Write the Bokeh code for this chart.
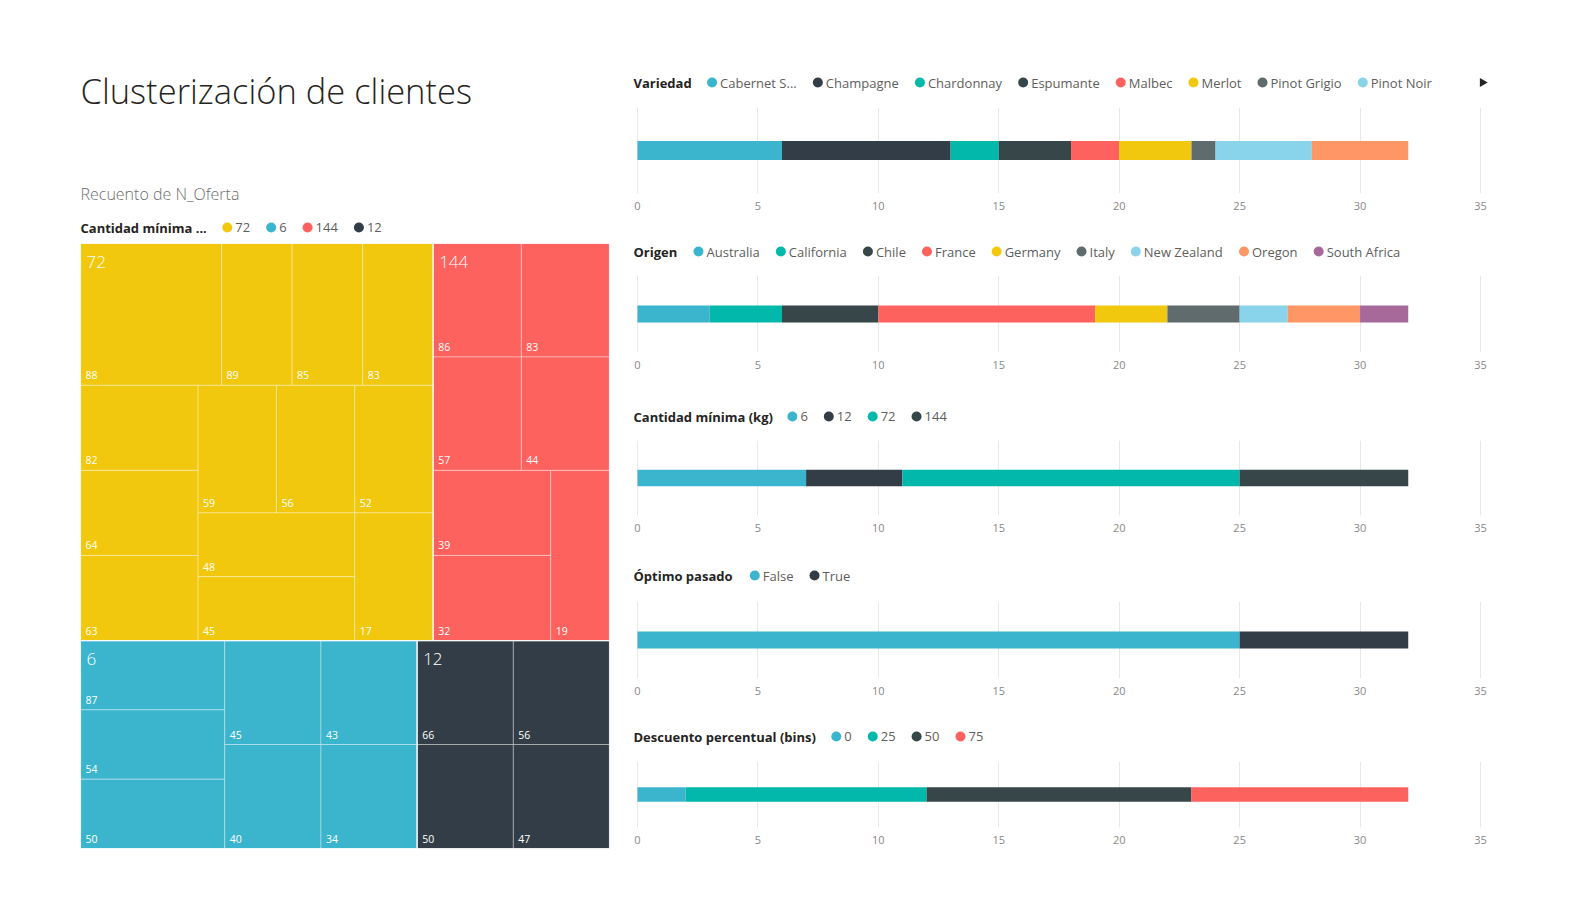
import math
from bokeh.plotting import figure
from bokeh.layouts import row, column
from bokeh.models import Range1d, FixedTicker, ColumnDataSource
from bokeh.core.properties import value
from bokeh.embed import file_html
from bokeh.resources import INLINE

# ---------------- data ----------------
title_text = "Clusterización de clientes"
treemap_title = "Recuento de N_Oferta"
treemap_legend_title = "Cantidad mínima ..."

tm_groups = ["72", "6", "144", "12"]
tm72_labels = ["88", "89", "85", "83", "82", "64", "63", "59", "56", "52", "48", "45", "17"]
tm72_counts = [2, 1, 1, 1, 1, 1, 1, 1, 1, 1, 1, 1, 1]
tm6_labels = ["87", "54", "50", "45", "43", "40", "34"]
tm6_counts = [1, 1, 1, 1, 1, 1, 1]
tm144_labels = ["86", "83", "57", "44", "39", "32", "19"]
tm144_counts = [1, 1, 1, 1, 1, 1, 1]
tm12_labels = ["66", "56", "50", "47"]
tm12_counts = [1, 1, 1, 1]

variedad_title = "Variedad"
variedad_labels = ["Cabernet Sauvignon", "Champagne", "Chardonnay", "Espumante", "Malbec",
                   "Merlot", "Pinot Grigio", "Pinot Noir", "Prosecco"]
variedad_counts = [6, 7, 2, 3, 2, 3, 1, 4, 4]

origen_title = "Origen"
origen_labels = ["Australia", "California", "Chile", "France", "Germany", "Italy",
                 "New Zealand", "Oregon", "South Africa"]
origen_counts = [3, 3, 4, 9, 3, 3, 2, 3, 2]

cantidad_title = "Cantidad mínima (kg)"
cantidad_labels = ["6", "12", "72", "144"]
cantidad_counts = [7, 4, 14, 7]

optimo_title = "Óptimo pasado"
optimo_labels = ["False", "True"]
optimo_counts = [25, 7]

descuento_title = "Descuento percentual (bins)"
descuento_labels = ["0", "25", "50", "75"]
descuento_counts = [2, 10, 11, 9]

x_ticks = [0, 5, 10, 15, 20, 25, 30, 35]
x_max = 35

# ---------------- styles ----------------
BLUE, DARK, TEAL, SLATE = "#3BB4CE", "#333D47", "#01B8AA", "#374649"
RED, YELLOW, GRAY, LBLUE = "#FD625E", "#F2C80F", "#5F6B6D", "#8AD4EB"
ORANGE, PURPLE = "#FE9666", "#A66999"

tm_group_colors = [YELLOW, BLUE, RED, DARK]
variedad_colors = [BLUE, DARK, TEAL, SLATE, RED, YELLOW, GRAY, LBLUE, ORANGE]
origen_colors = [BLUE, TEAL, SLATE, RED, YELLOW, GRAY, LBLUE, ORANGE, PURPLE]
cantidad_colors = [BLUE, DARK, TEAL, SLATE]
optimo_colors = [BLUE, DARK]
descuento_colors = [BLUE, TEAL, SLATE, RED]

FONT = "Open Sans"
LIGHT = "Open Sans Light, Open Sans"
TITLE_COL = "#252423"
ITEM_COL = "#605E5C"

CW = {' ': .26, 'a': .556, 'b': .613, 'c': .476, 'd': .613, 'e': .561, 'f': .339, 'g': .548,
      'h': .614, 'i': .253, 'j': .253, 'k': .525, 'l': .253, 'm': .93, 'n': .614, 'o': .604,
      'p': .613, 'q': .613, 'r': .408, 's': .477, 't': .353, 'u': .614, 'v': .501, 'w': .778,
      'x': .524, 'y': .502, 'z': .477, 'í': .253, 'ó': .604, 'A': .633, 'B': .648, 'C': .631,
      'D': .729, 'E': .556, 'F': .516, 'G': .728, 'H': .738, 'I': .279, 'K': .614, 'L': .519,
      'M': .903, 'N': .773, 'O': .779, 'Ó': .779, 'P': .602, 'R': .618, 'S': .549, 'T': .554,
      'U': .742, 'V': .579, 'W': .912, 'Z': .566, '.': .266, '(': .297, ')': .297, '_': .448}


def tw(s, size, bold=False):
    w = sum(CW.get(ch, .572) for ch in s) * size
    return w * (1.07 if bold else 1.0)


PHI = (1 + 5 ** 0.5) / 2


def squarify(values, x0, y0, x1, y1, ratio=PHI):
    rects = [None] * len(values)
    n = len(values)
    i0 = i1 = 0
    total = float(sum(values))
    while i0 < n:
        dx, dy = x1 - x0, y1 - y0
        s = values[i1]
        i1 += 1
        mn = mx = s
        alpha = max(dy / dx, dx / dy) / (total * ratio)
        beta = s * s * alpha
        min_ratio = max(mx / beta, beta / mn)
        while i1 < n:
            v = values[i1]
            s2 = s + v
            mn2, mx2 = min(mn, v), max(mx, v)
            beta = s2 * s2 * alpha
            r = max(mx2 / beta, beta / mn2)
            if r > min_ratio:
                break
            s, mn, mx, min_ratio = s2, mn2, mx2, r
            i1 += 1
        idx = range(i0, i1)
        if dx < dy:
            ny = y0 + dy * s / total if i1 < n else y1
            cx = x0
            for k in idx:
                w = dx * values[k] / s
                rects[k] = (cx, y0, cx + w, ny)
                cx += w
            y0 = ny
        else:
            nx = x0 + dx * s / total if i1 < n else x1
            cy = y0
            for k in idx:
                h = dy * values[k] / s
                rects[k] = (x0, cy, nx, cy + h)
                cy += h
            x0 = nx
        total -= s
        i0 = i1
    return rects


def draw_legend(p, x0, cy, title, labels, colors, limit=None):
    p.text(x=[x0], y=[cy], text=[title], text_font=value(FONT), text_font_size="13px",
           text_font_style="bold", text_color=TITLE_COL, text_baseline="middle",
           text_align="left")
    x = x0 + tw(title, 13, True) + 21
    dx, tx, tt, cc = [], [], [], []
    complete = True
    for lab, col in zip(labels, colors):
        disp = lab if len(lab) <= 12 else lab[:10] + "..."
        w = tw(disp, 13)
        if limit is not None and x + 8 + w > limit:
            complete = False
            break
        dx.append(x)
        tx.append(x + 8)
        tt.append(disp)
        cc.append(col)
        x += 8 + w + 21
    p.scatter(x=dx, y=[cy] * len(dx), size=10, marker="circle", fill_color=cc, line_color=None)
    p.text(x=tx, y=[cy] * len(tx), text=tt, text_font=value(FONT), text_font_size="13px",
           text_color=ITEM_COL, text_baseline="middle", text_align="left")
    return complete


# ---------------- left panel (screen-pixel canvas) ----------------
LEFT_W, PAGE_H = 620, 860
L = figure(width=LEFT_W, height=PAGE_H, x_range=Range1d(0, LEFT_W), y_range=Range1d(PAGE_H, 0),
           x_axis_type=None, y_axis_type=None, output_backend="svg",
           toolbar_location=None, min_border=0)
L.outline_line_color = None

L.text(x=[80], y=[90], text=[title_text], text_font=value(LIGHT), text_font_size="34.5px",
       text_color=TITLE_COL, text_baseline="middle", text_align="left")
L.text(x=[80], y=[193], text=[treemap_title], text_font=value(LIGHT), text_font_size="16px",
       text_color="#6E6E6E", text_baseline="middle", text_align="left")
draw_legend(L, 80, 227, treemap_legend_title, tm_groups, tm_group_colors)

TMX0, TMY0, TMX1, TMY1 = 80, 243, 609, 848
group_cells = {"72": (tm72_labels, tm72_counts), "6": (tm6_labels, tm6_counts),
               "144": (tm144_labels, tm144_counts), "12": (tm12_labels, tm12_counts)}
gcolor = dict(zip(tm_groups, tm_group_colors))
totals = {g: sum(group_cells[g][1]) for g in tm_groups}
gorder = sorted(tm_groups, key=lambda g: (-totals[g], -int(g)))
grects = squarify([totals[g] for g in gorder], TMX0, TMY0, TMX1, TMY1)

cl, cr, ct, cb, cf, lx, ly, lt = [], [], [], [], [], [], [], []
gl, gr, gt, gb, glx, gly, glt = [], [], [], [], [], [], []
for g, (gx0, gy0, gx1, gy1) in zip(gorder, grects):
    labs, cnts = group_cells[g]
    order = sorted(range(len(labs)), key=lambda i: (-cnts[i], -int(labs[i])))
    rects = squarify([cnts[i] for i in order], gx0, gy0, gx1, gy1)
    for i, (x0, y0, x1, y1) in zip(order, rects):
        cl.append(x0); cr.append(x1); ct.append(y0); cb.append(y1); cf.append(gcolor[g])
        lx.append(x0 + 5); ly.append(y1 - 10); lt.append(labs[i])
    gl.append(gx0); gr.append(gx1); gt.append(gy0); gb.append(gy1)
    glx.append(gx0 + 6); gly.append(gy0 + 18); glt.append(g)

L.quad(left=cl, right=cr, top=ct, bottom=cb, fill_color=cf, line_color="white",
       line_alpha=0.35, line_width=1)
L.quad(left=gl, right=gr, top=gt, bottom=gb, fill_color=None, line_color="white",
       line_alpha=0.7, line_width=1.2)
L.text(x=lx, y=ly, text=lt, text_font=value(FONT), text_font_size="10.5px",
       text_color="white", text_baseline="middle", text_align="left")
L.text(x=glx, y=gly, text=glt, text_font=value(LIGHT), text_font_size="17px",
       text_color="white", text_baseline="middle", text_align="left")

# ---------------- right panel ----------------
# all figures in the column share the same frame: screen x 628 .. 1500
RW, RX0 = 940, LEFT_W
FR_L, FR_R = 628, 1500           # frame edges (screen px)
AX0, AX35 = 637, 1480            # where 0 and 35 fall on screen
k = (AX35 - AX0) / x_max
xr_start = (FR_L - AX0) / k
xr_end = x_max + (FR_R - AX35) / k
BL, BR = FR_L - RX0, RW - (FR_R - RX0)

charts = [
    (variedad_title, variedad_labels, variedad_counts, variedad_colors, 0, 97, 82, 139, 10, 43),
    (origen_title, origen_labels, origen_counts, origen_colors, 236, 30, 251, 135, 9, 49),
    (cantidad_title, cantidad_labels, cantidad_counts, cantidad_colors, 401, 30, 416, 129, 9, 45),
    (optimo_title, optimo_labels, optimo_counts, optimo_colors, 560, 30, 575, 131, 11, 43),
    (descuento_title, descuento_labels, descuento_counts, descuento_colors, 721, 30, 736, 109, 10, 33),
]

right_items = []
for (title, labels, counts, colors, ltop, lh, lcy, bh, tb, bb) in charts:
    lg = figure(width=RW, height=lh, x_range=Range1d(FR_L, FR_R),
                y_range=Range1d(ltop + lh, ltop), x_axis_type=None, y_axis_type=None,
                output_backend="svg", toolbar_location=None, min_border_left=BL,
                min_border_right=BR, min_border_top=0, min_border_bottom=0)
    lg.outline_line_color = None
    complete = draw_legend(lg, 633, lcy, title, labels, colors, limit=1460)
    if not complete:
        lg.scatter(x=[1482], y=[lcy], size=9, marker="triangle", angle=-math.pi / 2,
                   fill_color="#252423", line_color=None)
    right_items.append(lg)

    p = figure(width=RW, height=bh, x_range=Range1d(xr_start, xr_end), y_range=Range1d(0, 1),
               y_axis_type=None, output_backend="svg", toolbar_location=None,
               min_border_left=BL, min_border_right=BR,
               min_border_top=tb, min_border_bottom=bb)
    p.outline_line_color = None
    lefts, rights = [], []
    acc = 0
    for c in counts:
        lefts.append(acc)
        acc += c
        rights.append(acc)
    src = ColumnDataSource(dict(left=lefts, right=rights, color=colors,
                                y=[0.5] * len(counts)))
    p.hbar(y="y", left="left", right="right", height=0.22, fill_color="color",
           line_color=None, source=src)
    p.xaxis.ticker = FixedTicker(ticks=x_ticks)
    p.xaxis.axis_line_color = None
    p.xaxis.major_tick_line_color = None
    p.xaxis.minor_tick_line_color = None
    p.xaxis.major_tick_out = 0
    p.xaxis.major_tick_in = 0
    p.xaxis.major_label_standoff = 8
    p.xaxis.major_label_text_font = FONT
    p.xaxis.major_label_text_font_size = "11px"
    p.xaxis.major_label_text_color = "#8A8886"
    p.xgrid.grid_line_color = "#E8E8E8"
    p.xgrid.grid_line_width = 1
    right_items.append(p)

layout = row(L, column(*right_items))
open("out.html", "w").write(file_html(layout, INLINE))
